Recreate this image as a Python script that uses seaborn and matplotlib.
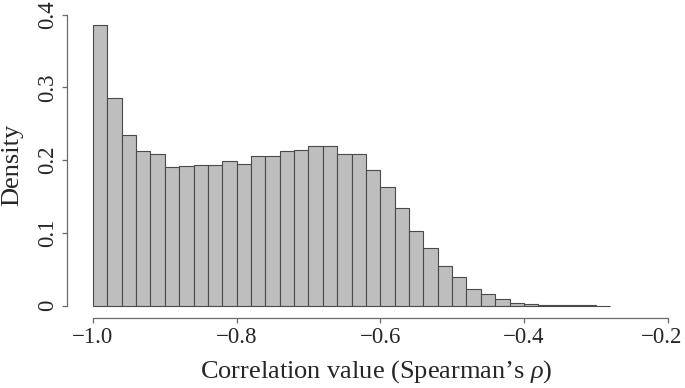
import numpy as np
import pandas as pd
import matplotlib
matplotlib.use("Agg")
import matplotlib.pyplot as plt
import matplotlib.transforms as mtransforms
import seaborn as sns

# histogram bins (width 0.02, starting at -1.0) and density
bin_start = -1.0
bin_width = 0.02
density = [0.386, 0.285, 0.235, 0.213, 0.209, 0.191, 0.192, 0.193, 0.194, 0.199,
           0.195, 0.206, 0.206, 0.213, 0.214, 0.219, 0.219, 0.208, 0.208, 0.187,
           0.163, 0.134, 0.102, 0.079, 0.055, 0.040, 0.023, 0.016, 0.009, 0.004,
           0.003, 0.0015, 0.0008, 0.0005, 0.0003, 0.0002]
xticks = [-1.0, -0.8, -0.6, -0.4, -0.2]
yticks = [0, 0.1, 0.2, 0.3, 0.4]

n = len(density)
centers = bin_start + bin_width * (np.arange(n) + 0.5)
df = pd.DataFrame({"rho": centers, "density": density})

sns.set_style("white")
plt.rcParams["font.family"] = ["Liberation Serif", "DejaVu Serif"]
plt.rcParams["mathtext.fontset"] = "custom"
plt.rcParams["mathtext.rm"] = "Liberation Serif"
plt.rcParams["mathtext.it"] = "Liberation Serif:italic"

fig = plt.figure(figsize=(6.85, 3.88), dpi=100)
ax = fig.add_axes([67 / 685, 1 - 318 / 388, 626.5 / 685, 315.7 / 388])

sns.histplot(data=df, x="rho", weights="density", binwidth=bin_width,
             binrange=(bin_start, bin_start + n * bin_width), stat="count",
             color="#bebebe", edgecolor="#4a4a4a", linewidth=0.8, alpha=1,
             ax=ax)

ax.set_xlim(-1.0362, -0.1638)
ax.set_ylim(-0.0169, 0.4169)

for s in ["top", "right"]:
    ax.spines[s].set_visible(False)
ax.spines["left"].set_bounds(0, 0.4)
ax.spines["bottom"].set_bounds(-1.0, -0.2)
for s in ["left", "bottom"]:
    ax.spines[s].set_color("#6a6a6a")
    ax.spines[s].set_linewidth(0.9)

ax.set_xticks(xticks)
ax.set_xticklabels([f"{v:.1f}".replace("-", "\u2212") for v in xticks], fontsize=16.5)
ax.set_yticks(yticks)
ax.set_yticklabels(["0" if v == 0 else f"{v:.1f}" for v in yticks],
                   fontsize=16.5, rotation=90, va="center")
ax.tick_params(axis="both", direction="out", length=3.5, width=0.9,
               color="#6a6a6a", left=True, bottom=True, pad=3)

# last x label sits a bit left so it stays inside the picture
last = ax.get_xticklabels()[-1]
last.set_transform(last.get_transform()
                   + mtransforms.ScaledTranslation(-0.06, 0, fig.dpi_scale_trans))

ax.set_xlabel("Correlation value (Spearman\u2019s $\\rho$)", fontsize=19)
ax.set_ylabel("Density", fontsize=19)
ax.xaxis.set_label_coords(309 / 626.5, -40 / 315.7)
ax.yaxis.set_label_coords(-44 / 626.5, 153 / 315.7)

fig.savefig("out.png", dpi=100)
